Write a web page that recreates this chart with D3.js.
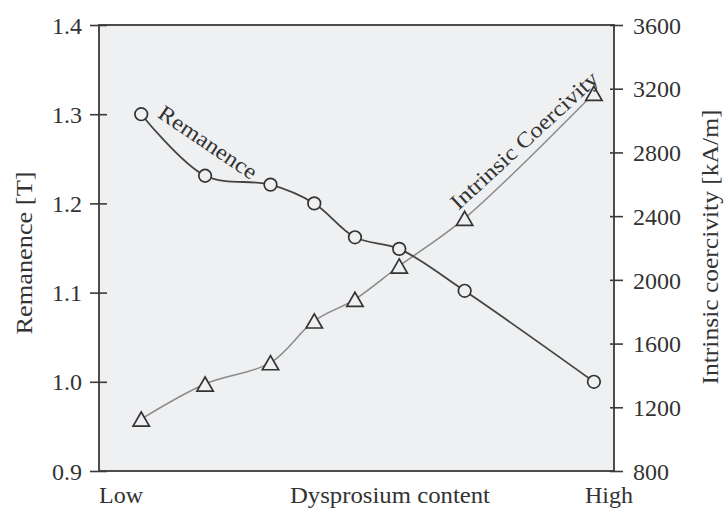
<!DOCTYPE html>
<html>
<head>
<meta charset="utf-8">
<script src="https://cdn.jsdelivr.net/npm/d3@7"></script>
<style>
  html, body { margin: 0; padding: 0; background: #ffffff; }
  svg { display: block; }
  text { font-family: "Liberation Serif", "Times New Roman", serif; fill: #333; }
</style>
</head>
<body>
<svg id="chart" width="725" height="508"></svg>
<script>
// ---- data ----
const content      = [8.2, 20.6, 33.3, 41.8, 49.7, 58.3, 71.0, 96.1];   // relative Dy content (0 = Low .. 100 = High)
const remanence    = [1.300, 1.231, 1.221, 1.200, 1.162, 1.149, 1.102, 1.000]; // T
const coercivity   = [1126, 1346, 1480, 1742, 1878, 2087, 2386, 3171];  // kA/m
const remTicks     = [0.9, 1.0, 1.1, 1.2, 1.3, 1.4];
const coerTicks    = [800, 1200, 1600, 2000, 2400, 2800, 3200, 3600];
const xLabels      = ["Low", "Dysprosium content", "High"];
const leftTitle    = "Remanence [T]";
const rightTitle   = "Intrinsic coercivity [kA/m]";
const seriesLabels = ["Remanence", "Intrinsic Coercivity"];

// ---- layout ----
const svg = d3.select("#chart");
const X0 = 99, X1 = 614, Y0 = 25, Y1 = 471;
const plotBg = "#eff0f2";
const ink = "#3a3a3a";

const x  = d3.scaleLinear().domain([0, 100]).range([X0, X1]);
const yL = d3.scaleLinear().domain([0.9, 1.4]).range([Y1, Y0]);
const yR = d3.scaleLinear().domain([800, 3600]).range([Y1, Y0]);

// plot background
svg.append("rect")
  .attr("x", X0).attr("y", Y0).attr("width", X1 - X0).attr("height", Y1 - Y0)
  .attr("fill", plotBg);

// left axis
const gL = svg.append("g").attr("transform", `translate(${X0},0)`)
  .call(d3.axisLeft(yL).tickValues(remTicks).tickFormat(d3.format(".1f")).tickSizeOuter(0).tickSizeInner(9).tickPadding(8));
gL.select(".domain").remove();
gL.selectAll(".tick line").attr("x1", 8).attr("stroke", ink).attr("stroke-width", 1.6);
gL.selectAll(".tick text").attr("font-size", 24).attr("font-family", "Liberation Serif").attr("fill", "#333")
  .attr("x", -17).attr("dy", "0.34em");

// right axis
const gR = svg.append("g").attr("transform", `translate(${X1},0)`)
  .call(d3.axisRight(yR).tickValues(coerTicks).tickFormat(d3.format("d")).tickSizeOuter(0).tickSizeInner(9).tickPadding(8));
gR.select(".domain").remove();
gR.selectAll(".tick line").attr("x1", -4).attr("stroke", ink).attr("stroke-width", 1.6);
gR.selectAll(".tick text").attr("font-size", 24).attr("font-family", "Liberation Serif").attr("fill", "#333")
  .attr("x", 19).attr("dy", "0.34em");

// frame
svg.append("rect")
  .attr("x", X0).attr("y", Y0).attr("width", X1 - X0).attr("height", Y1 - Y0)
  .attr("fill", "none").attr("stroke", ink).attr("stroke-width", 1.8);

// lines
const remData  = content.map((c, i) => ({ x: c, y: remanence[i] }));
const coerData = content.map((c, i) => ({ x: c, y: coercivity[i] }));

svg.append("path").datum(coerData)
  .attr("fill", "none").attr("stroke", "#8a8a8a").attr("stroke-width", 1.5)
  .attr("d", d3.line().x(d => x(d.x)).y(d => yR(d.y)).curve(d3.curveCatmullRom.alpha(0.5)));

svg.append("path").datum(remData)
  .attr("fill", "none").attr("stroke", "#444").attr("stroke-width", 1.8)
  .attr("d", d3.line().x(d => x(d.x)).y(d => yL(d.y)).curve(d3.curveCatmullRom.alpha(0.5)));

// markers
const triSize = 115;
const triSide = Math.sqrt(triSize * 4 / Math.sqrt(3));
const triOff = triSide * Math.sqrt(3) / 2 / 6; // shift so the bounding box centre sits on the point
svg.append("g").selectAll("path").data(coerData).join("path")
  .attr("d", d3.symbol(d3.symbolTriangle, triSize))
  .attr("transform", d => `translate(${x(d.x)},${yR(d.y) + triOff})`)
  .attr("fill", plotBg).attr("stroke", "#333").attr("stroke-width", 1.7);

svg.append("g").selectAll("circle").data(remData).join("circle")
  .attr("cx", d => x(d.x)).attr("cy", d => yL(d.y)).attr("r", 6.3)
  .attr("fill", plotBg).attr("stroke", "#333").attr("stroke-width", 1.7);

// series labels
svg.append("text")
  .attr("transform", `translate(208,142) rotate(34)`)
  .attr("text-anchor", "middle").attr("dy", "0.35em")
  .attr("font-size", 22).attr("textLength", 114).attr("lengthAdjust", "spacingAndGlyphs")
  .text(seriesLabels[0]);

svg.append("text")
  .attr("transform", `translate(524,140) rotate(-42.6)`)
  .attr("text-anchor", "middle").attr("dy", "0.35em")
  .attr("font-size", 22).attr("textLength", 192).attr("lengthAdjust", "spacingAndGlyphs")
  .text(seriesLabels[1]);

// x labels
svg.append("text").attr("x", X0).attr("y", 503).attr("font-size", 24).attr("text-anchor", "start").text(xLabels[0]);
svg.append("text").attr("x", 390).attr("y", 503).attr("font-size", 24).attr("text-anchor", "middle")
  .attr("textLength", 200).attr("lengthAdjust", "spacingAndGlyphs").text(xLabels[1]);
svg.append("text").attr("x", X1 + 19).attr("y", 503).attr("font-size", 24).attr("text-anchor", "end").text(xLabels[2]);

// axis titles
svg.append("text")
  .attr("transform", `translate(24,253) rotate(-90)`)
  .attr("text-anchor", "middle").attr("dy", "0.35em")
  .attr("font-size", 24).attr("textLength", 163).attr("lengthAdjust", "spacingAndGlyphs")
  .text(leftTitle);

svg.append("text")
  .attr("transform", `translate(710,247) rotate(-90)`)
  .attr("text-anchor", "middle").attr("dy", "0.35em")
  .attr("font-size", 24).attr("textLength", 275).attr("lengthAdjust", "spacingAndGlyphs")
  .text(rightTitle);
</script>
</body>
</html>
